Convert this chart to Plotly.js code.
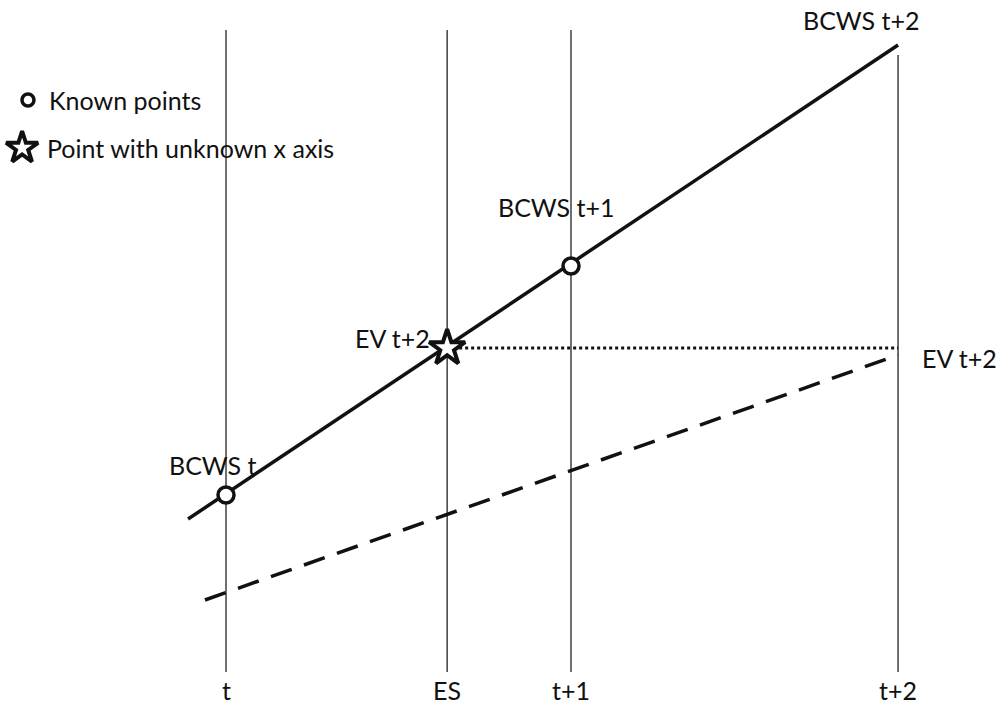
<!DOCTYPE html>
<html>
<head>
<meta charset="utf-8">
<script src="https://cdn.plot.ly/plotly-3.0.1.min.js"></script>
<style>html,body{margin:0;padding:0;background:#fff;}#chart{width:996px;height:708px;}</style>
</head>
<body>
<div id="chart"></div>
<script>
// Time positions (t = 0, t+1 = 1)
const timeLabels = ['t', 'ES', 't+1', 't+2'];
const timeX = [0, 0.641, 1, 1.948];
const timeTop = [6.42, 6.42, 6.42, 6.17];
const timeBottom = [0, 0, 0, 0];

// Planned value line (BCWS)
const bcwsX = [-0.11, 1.948];
const bcwsY = [1.53, 6.27];

// Earned value line (dashed)
const evX = [-0.061, 1.948];
const evY = [0.72, 3.17];

// Known points
const knownX = [0, 1];
const knownY = [1.77, 4.06];

// Point with unknown x (ES)
const starX = [0.641];
const starY = [3.24];

// Dotted projection
const dotX = [0.641, 1.948];
const dotY = [3.24, 3.24];

// Labels
const pointLabels = ['BCWS t', 'EV t+2', 'BCWS t+1', 'BCWS t+2', 'EV t+2'];
const pointLabelX = [-0.038, 0.597, 0.957, 1.843, 2.012];
const pointLabelY = [2.07, 3.34, 4.65, 6.52, 3.14];
const pointLabelAnchor = ['center', 'right', 'center', 'center', 'left'];

// Legend
const legendLabels = ['Known points', 'Point with unknown x axis'];
const legendMarkX = [-0.574, -0.591];
const legendTextX = [-0.519, -0.525];
const legendY = [5.72, 5.24];

const fontFam = 'Lato, "Open Sans", sans-serif';
const ink = '#111';
const fs = 25;

const traces = [];
// vertical time lines
for (let i = 0; i < timeX.length; i++) {
  traces.push({
    x: [timeX[i], timeX[i]], y: [timeBottom[i], timeTop[i]],
    mode: 'lines', line: {color: '#222', width: 1.3}, hoverinfo: 'skip', showlegend: false
  });
}
traces.push({x: bcwsX, y: bcwsY, mode: 'lines', line: {color: ink, width: 3.5}, showlegend: false});
traces.push({x: evX, y: evY, mode: 'lines', line: {color: ink, width: 3.5, dash: '22px,13px'}, showlegend: false});
traces.push({x: dotX, y: dotY, mode: 'lines', line: {color: ink, width: 3, dash: '3px,3px'}, showlegend: false});
traces.push({x: knownX, y: knownY, mode: 'markers', marker: {symbol: 'circle', size: 16, color: '#fff', line: {color: ink, width: 3.5}}, showlegend: false});
traces.push({x: starX, y: starY, mode: 'markers', marker: {symbol: 'star', size: 27, color: '#fff', line: {color: ink, width: 4}}, showlegend: false});
// legend markers
traces.push({x: [legendMarkX[0]], y: [legendY[0]], mode: 'markers', marker: {symbol: 'circle', size: 12, color: '#fff', line: {color: ink, width: 3.5}}, showlegend: false});
traces.push({x: [legendMarkX[1]], y: [legendY[1]], mode: 'markers', marker: {symbol: 'star', size: 24, color: '#fff', line: {color: ink, width: 4}}, showlegend: false});

const annotations = [];
for (let i = 0; i < timeLabels.length; i++) {
  annotations.push({x: timeX[i], y: -0.18, text: timeLabels[i], showarrow: false, xanchor: 'center', yanchor: 'middle',
    font: {family: fontFam, size: fs, color: ink}});
}
for (let i = 0; i < pointLabels.length; i++) {
  annotations.push({x: pointLabelX[i], y: pointLabelY[i], text: pointLabels[i], showarrow: false,
    xanchor: pointLabelAnchor[i], yanchor: 'middle', font: {family: fontFam, size: fs, color: ink}});
}
for (let i = 0; i < legendLabels.length; i++) {
  annotations.push({x: legendTextX[i], y: legendY[i], text: legendLabels[i], showarrow: false,
    xanchor: 'left', yanchor: 'middle', font: {family: fontFam, size: fs, color: ink}});
}

const layout = {
  width: 996, height: 708,
  margin: {l: 0, r: 0, t: 0, b: 0},
  paper_bgcolor: '#fff', plot_bgcolor: '#fff',
  xaxis: {range: [-0.6551, 2.2319], visible: false, fixedrange: true},
  yaxis: {range: [-0.36, 6.72], visible: false, fixedrange: true},
  annotations: annotations,
  showlegend: false
};

Plotly.newPlot('chart', traces, layout, {displayModeBar: false, staticPlot: true});
</script>
</body>
</html>
